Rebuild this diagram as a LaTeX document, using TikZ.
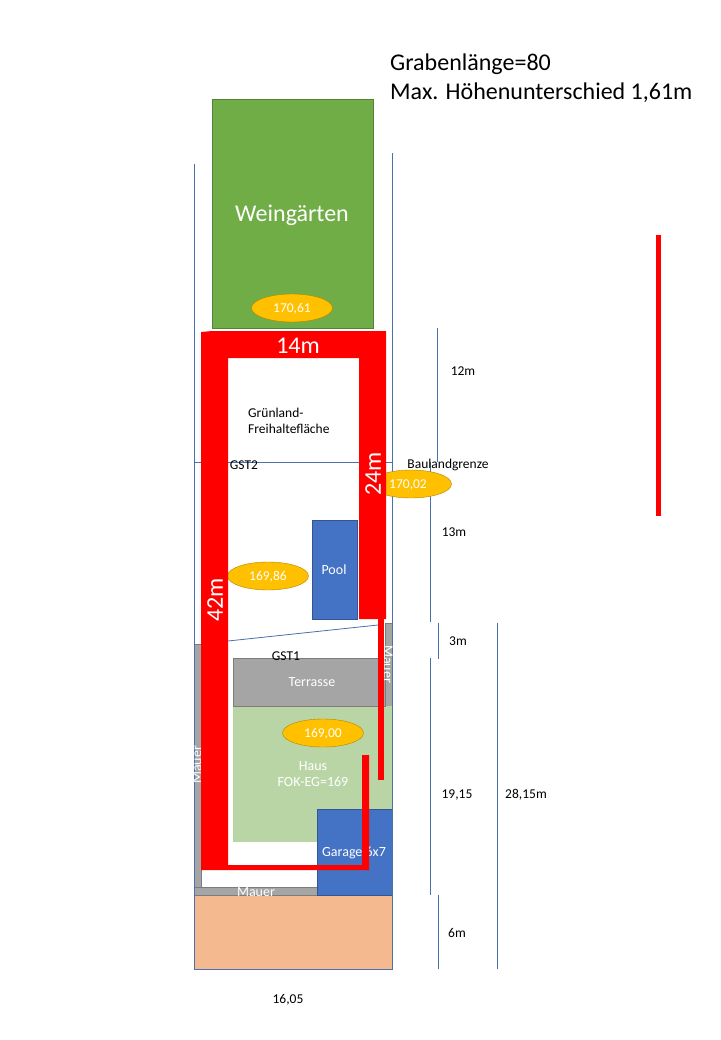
\documentclass[tikz,border=0pt]{standalone}
\usepackage{fontspec}
\setmainfont{Carlito}
\usetikzlibrary{positioning,shapes.geometric}

\definecolor{lineBlue}{HTML}{4A70AE}
\definecolor{boxBlue}{HTML}{4472C4}
\definecolor{gardenGreen}{HTML}{70AD47}
\definecolor{houseGreen}{HTML}{B9D5A6}
\definecolor{wallGray}{HTML}{A5A5A5}
\definecolor{heightGold}{HTML}{FFC000}
\definecolor{plotPeach}{HTML}{F4B98F}
\definecolor{trenchRed}{HTML}{FF0000}

\tikzset{
  plan/.style={x=1pt,y=-1pt},
  limit/.style={draw=lineBlue,line width=0.8pt},
  area/.style={draw=#1!75!black,fill=#1,line width=0.8pt},
  trench/.style={fill=trenchRed},
  height/.style={ellipse,draw=heightGold!70!black,fill=heightGold,inner sep=0pt,
    minimum width=81pt,minimum height=28pt,text=white,text depth=0pt,
    font=\fontsize{13.5}{14}\selectfont},
  whiteLabel/.style={text=white,font=\fontsize{14}{16}\selectfont,align=center,inner sep=0pt},
  blackLabel/.style={text=black,font=\fontsize{13.5}{16}\selectfont,align=left,inner sep=0pt},
  bigLabel/.style={text=white,font=\fontsize{24}{24}\selectfont,inner sep=0pt},
  titleLabel/.style={inner sep=0pt,anchor=west,font=\fontsize{24}{24}\selectfont}
}

\begin{document}
\begin{tikzpicture}[plan]
  \useasboundingbox (0,0) rectangle (720,1040);
  \fill[white] (0,0) rectangle (720,1040);

  \draw[area=gardenGreen] (212,99) rectangle (373,328);
  \fill[plotPeach] (194,895) rectangle (392,969);
  \draw[area=wallGray] (194,644) rectangle (201,887);
  \draw[area=wallGray] (194,887) rectangle (317,895);
  \draw[area=wallGray] (385,623) rectangle (392,706);
  \fill[houseGreen] (233,706) rectangle (392,842);
  \draw[area=wallGray] (233,658) rectangle (385,706);
  \draw[area=boxBlue] (317,809) rectangle (392,895);
  \draw[area=boxBlue] (312,520) rectangle (357,619);

  \draw[limit] (194,164) -- (194,969) -- (392,969) -- (392,153);
  \draw[limit] (194,462) -- (392,462);
  \draw[limit] (228,641) -- (378,625);
  \draw[limit] (437,328) -- (437,462);
  \draw[limit] (430,462) -- (430,622);
  \draw[limit] (438,623) -- (438,659);
  \draw[limit] (430,658) -- (430,895);
  \draw[limit] (438,895) -- (438,969);
  \draw[limit] (497,623) -- (497,969);

  \node[height] (gardenHeight) at (292,308) {170,61};
  \node[height] (edgeHeight) at (411,484) {\hspace*{-6pt}170,02};
  \node[height] (meadowHeight) at (268,576) {169,86};
  \node[height] (houseHeight) at (323,733) {169,00};

  \node[whiteLabel] (garage) at (354,853) {Garage 6x7};
  \node[whiteLabel,rotate=-90] (wallRight) at (388,664) {Mauer};
  \node[whiteLabel,rotate=90] (wallLeft) at (197,765) {Mauer};
  \node[whiteLabel] (wallBottom) at (256,892) {Mauer};

  \fill[trench] (201,332) -- (212,331) -- (386,331) -- (386,619) -- (359,619) -- (359,358)
    -- (228,358) -- (228,865) -- (362,865) -- (362,755) -- (369,755) -- (369,870)
    -- (201,870) -- cycle;
  \fill[trench] (378,619) rectangle (384,780);
  \fill[trench] (656,235) rectangle (661,516);

  \node[bigLabel] (vineyard) at (292,215.5) {Weingärten};
  \node[bigLabel] (topLength) at (298,346) {14m};
  \node[bigLabel,rotate=90] (rightLength) at (373,474) {24m};
  \node[bigLabel,rotate=90] (leftLength) at (215,600) {42m};
  \node[whiteLabel] (pool) at (334,570) {Pool};
  \node[whiteLabel] (terrace) at (312,682) {Terrasse};
  \node[whiteLabel] (house) at (313,774) {Haus\\FOK-EG=169};

  \node[blackLabel,anchor=west] (meadow) at (248,421) {Grünland-\\Freihaltefläche};
  \node[blackLabel] (plotTwo) at (244,465) {GST2};
  \node[blackLabel] (plotOne) at (286,656) {GST1};
  \node[blackLabel] (boundary) at (448,465) {Baulandgrenze};
  \node[blackLabel] (dimTwelve) at (463,371) {12m};
  \node[blackLabel] (dimThirteen) at (454,532) {13m};
  \node[blackLabel] (dimThree) at (458,641) {3m};
  \node[blackLabel] (dimNineteen) at (457,795) {19,15};
  \node[blackLabel] (dimTotal) at (526,795) {28,15m};
  \node[blackLabel] (dimSix) at (457,933) {6m};
  \node[blackLabel] (dimWidth) at (288,1000) {16,05};

  \node[titleLabel] (ditchLength) at (390,64.5) {Grabenlänge=80};
  \node[titleLabel] (heightDiff) at (390,93) {Max. Höhenunterschied 1,61m};
\end{tikzpicture}
\end{document}
